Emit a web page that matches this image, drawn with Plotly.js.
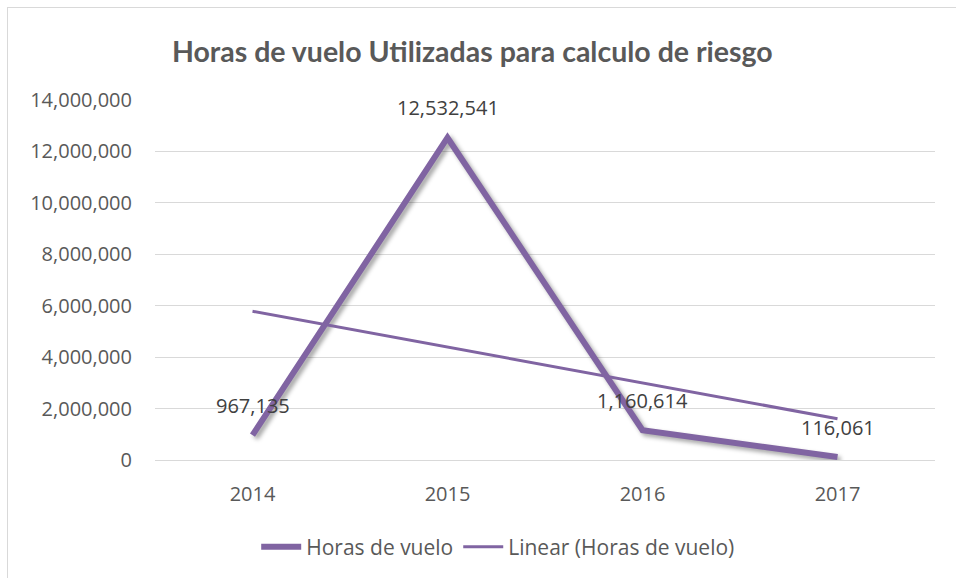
<!DOCTYPE html>
<html>
<head>
<meta charset="utf-8">
<script src="https://cdn.plot.ly/plotly-3.0.1.min.js"></script>
<style>
  html, body { margin: 0; padding: 0; background: #fff; }
  #frame { position: absolute; left: 7px; top: 7px; width: 1000px; height: 620px; border: 1px solid #d9d9d9; }
  #chart { position: absolute; left: 0; top: 0; width: 956px; height: 578px; }
  #chart .scatterlayer .trace:first-child path.js-line { filter: drop-shadow(3px 3px 2px rgba(0,0,0,0.35)); }
</style>
</head>
<body>
<div id="frame"></div>
<div id="chart"></div>
<script>
const years = ['2014', '2015', '2016', '2017'];
const horas = [967135, 12532541, 1160614, 116061];
const seriesName = 'Horas de vuelo';
const trendName = 'Linear (Horas de vuelo)';
const yTicks = [0, 2000000, 4000000, 6000000, 8000000, 10000000, 12000000, 14000000];

// least-squares linear trend over category index
const n = horas.length;
const xs = horas.map((_, i) => i + 1);
const mx = xs.reduce((a, b) => a + b, 0) / n;
const my = horas.reduce((a, b) => a + b, 0) / n;
let sxy = 0, sxx = 0;
for (let i = 0; i < n; i++) { sxy += (xs[i] - mx) * (horas[i] - my); sxx += (xs[i] - mx) ** 2; }
const slope = sxy / sxx;
const trend = xs.map(x => my + slope * (x - mx));

const purple = '#8064A2';
const fontFam = '"Open Sans", sans-serif';
const fmt = v => v.toLocaleString('en-US');

const traces = [
  { x: years, y: horas, type: 'scatter', mode: 'lines', name: seriesName,
    line: { color: purple, width: 6 }, hoverinfo: 'skip' },
  { x: years, y: trend, type: 'scatter', mode: 'lines', name: trendName,
    line: { color: purple, width: 3 }, hoverinfo: 'skip' }
];

const annotations = years.map((yr, i) => ({
  x: i, y: horas[i], xref: 'x', yref: 'y', text: fmt(horas[i]),
  showarrow: false, yshift: 30, font: { family: fontFam, size: 20, color: '#404040' }
}));

const layout = {
  width: 956, height: 578,
  margin: { l: 155, r: 21, t: 100, b: 118, autoexpand: false },
  paper_bgcolor: 'rgba(0,0,0,0)', plot_bgcolor: 'rgba(0,0,0,0)',
  title: { text: '<b>Horas de vuelo Utilizadas para calculo de riesgo</b>',
    font: { family: 'Lato, sans-serif', size: 28.5, color: '#595959' },
    x: 0.494, xanchor: 'center', y: 0.91, yanchor: 'middle' },
  xaxis: { type: 'category', range: [-0.5, 3.5], showgrid: false, zeroline: false,
    showline: false, ticks: '', ticklabelstandoff: 20,
    tickfont: { family: fontFam, size: 20, color: '#595959' } },
  yaxis: { range: [0, 14000000], tickvals: yTicks, ticktext: yTicks.map(fmt),
    showgrid: true, gridcolor: '#d9d9d9', gridwidth: 1, zeroline: true, zerolinecolor: '#d9d9d9',
    showline: false, ticks: '', ticklabelstandoff: 22,
    tickfont: { family: fontFam, size: 20, color: '#595959' } },
  showlegend: true,
  legend: { orientation: 'h', x: 0.44, xanchor: 'center', y: -0.185, yanchor: 'top',
    font: { family: fontFam, size: 21, color: '#595959' }, itemwidth: 40 },
  annotations: annotations
};

Plotly.newPlot('chart', traces, layout, { staticPlot: true, displayModeBar: false });
</script>
</body>
</html>
